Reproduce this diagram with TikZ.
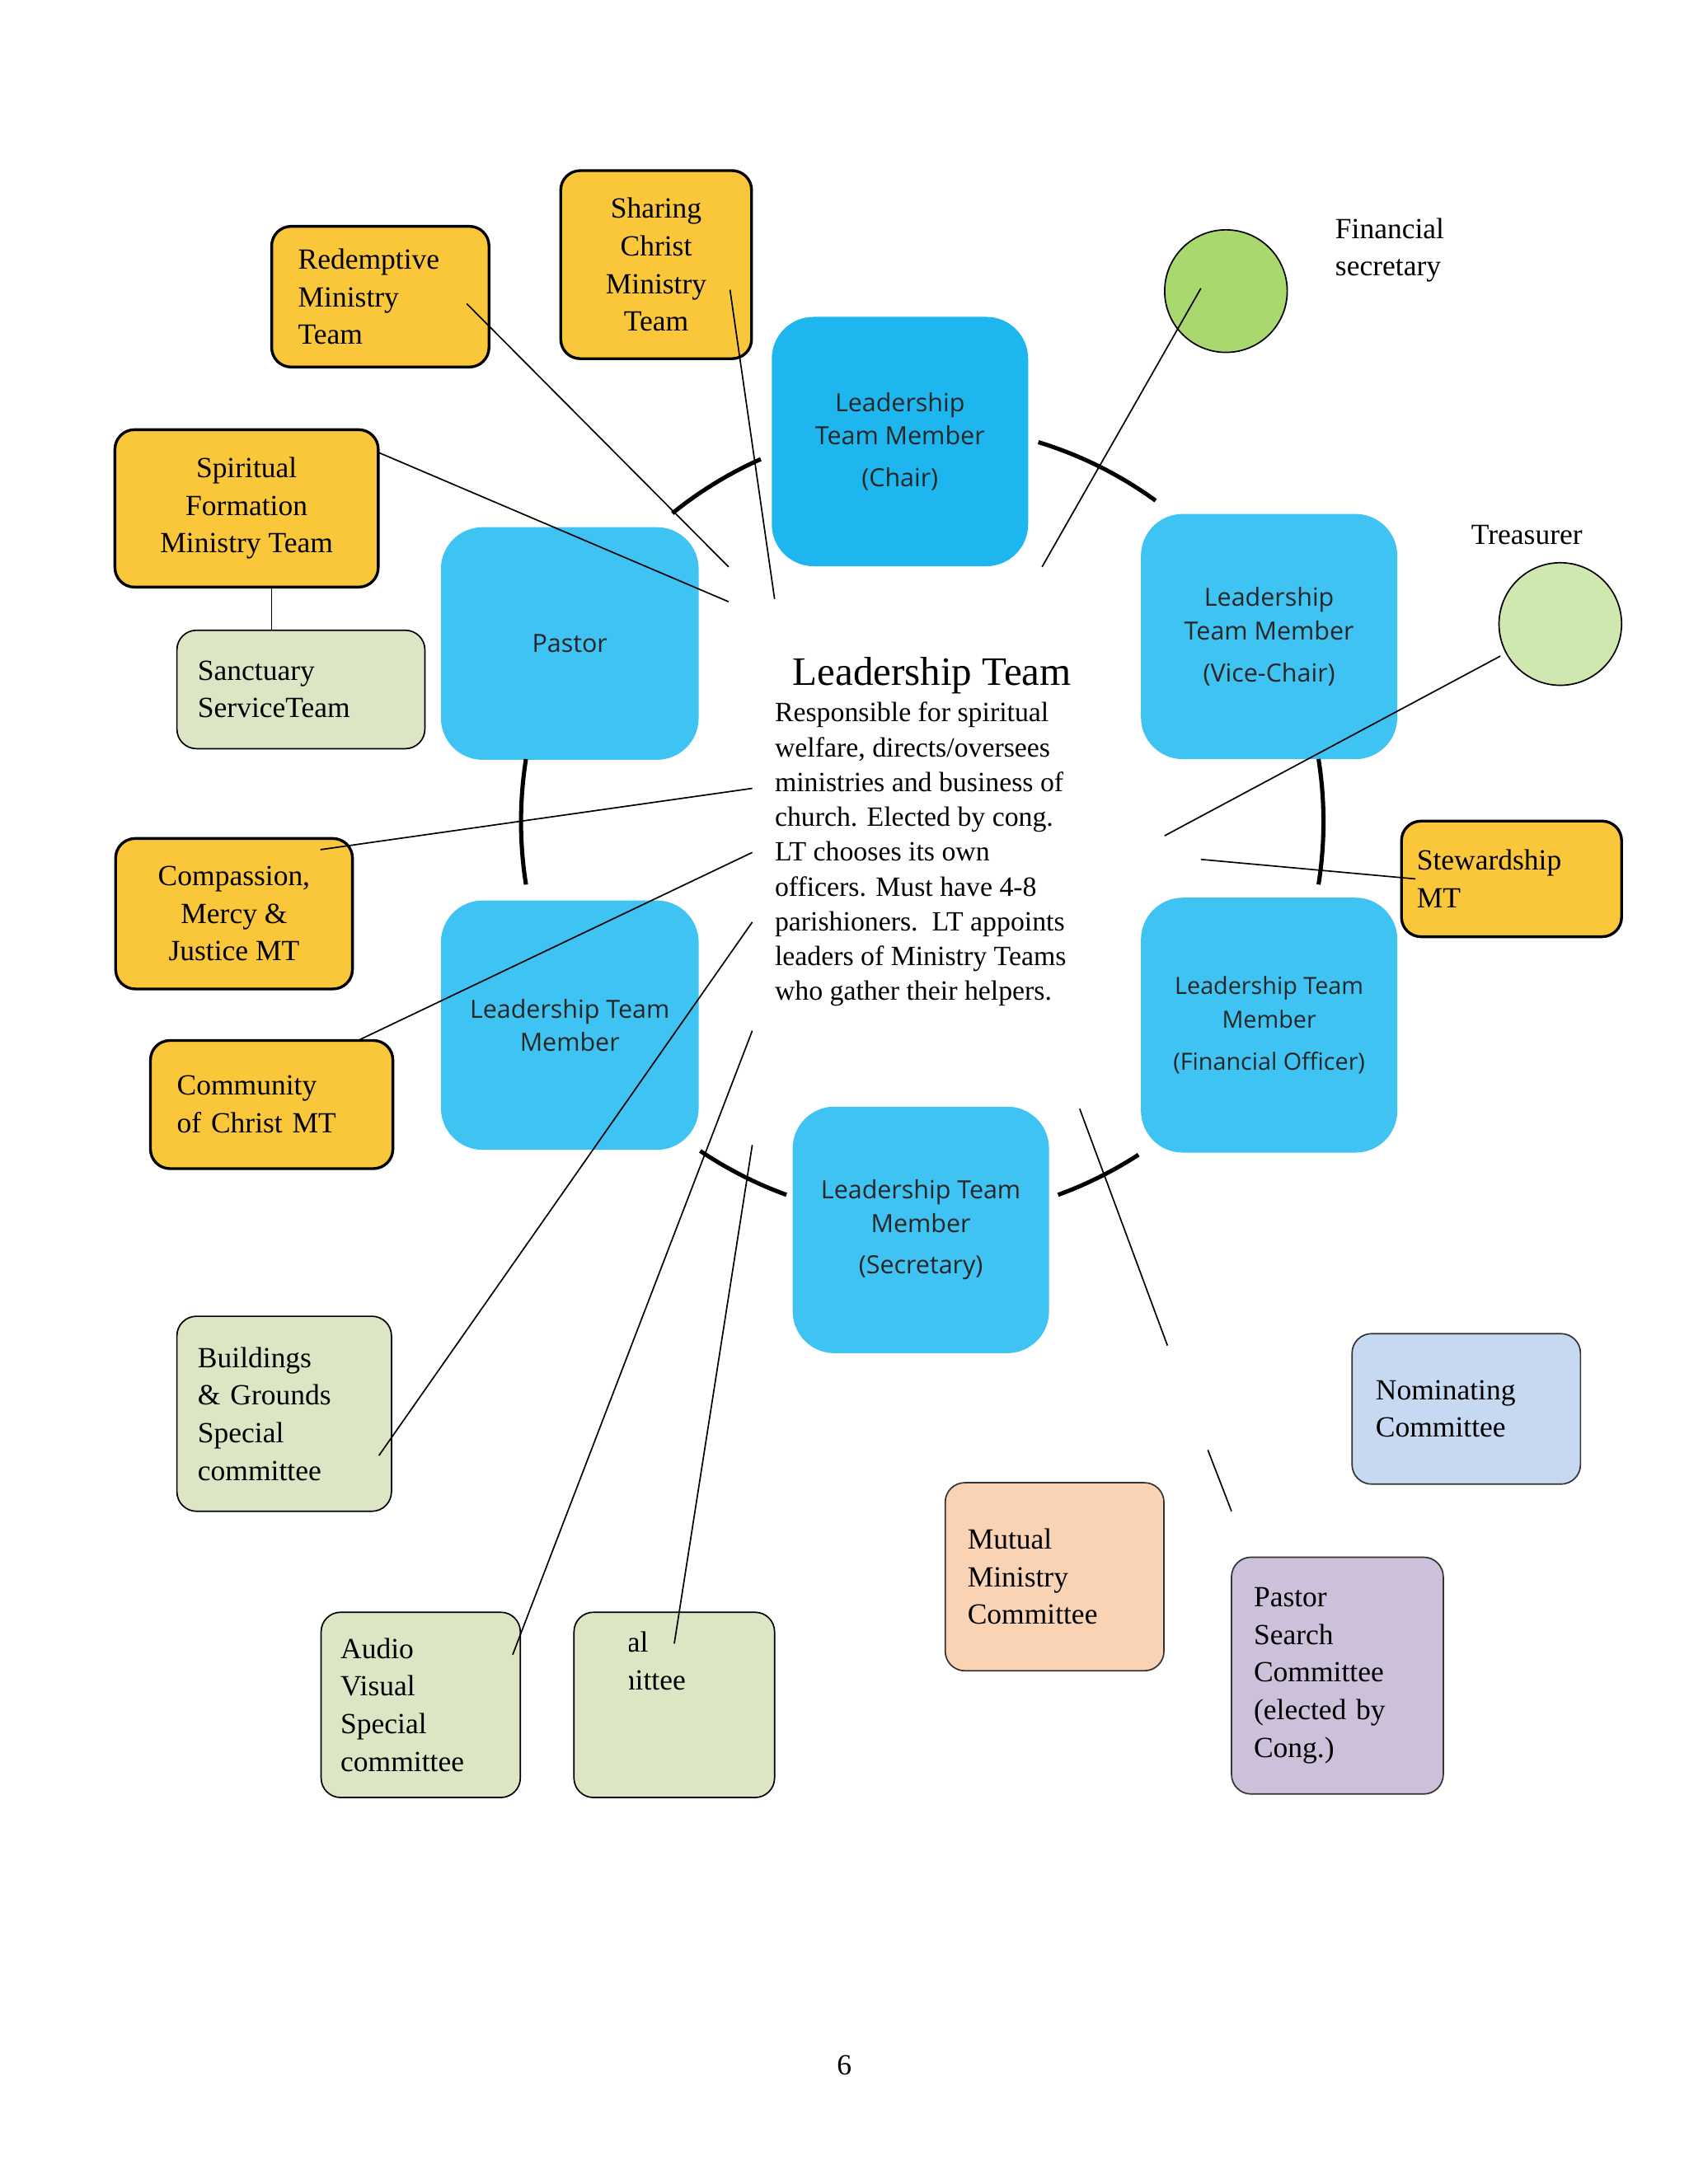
\documentclass[tikz,border=0pt]{standalone}
\usepackage{fontspec}
\setmainfont{Liberation Serif}
\newfontfamily\bluefont{Open Sans}
\definecolor{yel}{HTML}{FBC73A}
\definecolor{blu}{HTML}{3EC3F2}
\definecolor{bluD}{HTML}{1DB6EE}
\definecolor{chk}{HTML}{DCE6C4}
\definecolor{grn}{HTML}{A9D86E}
\definecolor{grnL}{HTML}{CFE8B0}
\definecolor{nom}{HTML}{C6D9F1}
\definecolor{mut}{HTML}{FAD3B4}
\definecolor{pur}{HTML}{CCC0DA}
\begin{document}
\begin{tikzpicture}[x=1pt,y=-1pt,
 serif/.style={font=\fontsize{21}{27}\selectfont},
 ybox/.style={draw=black,line width=2pt,fill=yel,rounded corners=14pt,serif},
 cbox/.style={draw=black,line width=1pt,fill=chk,rounded corners=14pt,serif},
 obox/.style={draw=black!80,line width=1pt,rounded corners=14pt,serif},
 bbox/.style={fill=blu,rounded corners=30pt,font=\bluefont\fontsize{18}{24}\selectfont,align=center,text=black!85},
 ln/.style={black,line width=1pt},
 arcs/.style={black,line width=3pt}]
\useasboundingbox (0,0) rectangle (1212,1568);
\fill[white] (0,0) rectangle (1212,1568);
% blue boxes
\node[bbox,fill=bluD,minimum width=184pt,minimum height=179pt] (chair) at (646,317) {Leadership\\Team Member\\[6pt](Chair)};
\node[bbox,minimum width=185pt,minimum height=167pt] (pastor) at (409,462) {Pastor};
\node[bbox,minimum width=184pt,minimum height=176pt] (vice) at (911,457) {Leadership\\Team Member\\[6pt](Vice-Chair)};
\node[bbox,minimum width=185pt,minimum height=179pt] (ltm) at (409,736) {Leadership Team\\Member};
\node[bbox,minimum width=184pt,minimum height=183pt,font=\bluefont\fontsize{17}{24}\selectfont] (fin) at (911,736) {Leadership Team\\Member\\[6pt](Financial Officer)};
\node[bbox,minimum width=184pt,minimum height=177pt] (sec) at (661,883) {Leadership Team\\Member\\[6pt](Secretary)};
% arcs
\coordinate (c) at (662,590);
\draw[arcs] ([shift={(-129:285)}]c) arc[start angle=-129,end angle=-114,radius=285];
\draw[arcs] ([shift={(-73:285)}]c) arc[start angle=-73,end angle=-54,radius=285];
\draw[arcs] ([shift={(-9:288)}]c) arc[start angle=-9,end angle=9,radius=288];
\draw[arcs] ([shift={(171:288)}]c) arc[start angle=171,end angle=189,radius=288];
\draw[arcs] ([shift={(110:285)}]c) arc[start angle=110,end angle=124,radius=285];
\draw[arcs] ([shift={(57:285)}]c) arc[start angle=57,end angle=70,radius=285];
% center text
\node[font=\fontsize{29}{34}\selectfont] (title) at (669,485) {Leadership Team};
\node[serif,anchor=north west,align=left,inner sep=0pt,font=\fontsize{20}{25}\selectfont] (desc) at (556,504) {Responsible for spiritual\\welfare, directs/oversees\\ministries and business of\\church. Elected by cong.\\LT chooses its own\\officers. Must have 4-8\\parishioners.\ \ LT appoints\\leaders of Ministry Teams\\who gather their helpers.};
% yellow boxes
\node[ybox,minimum width=156pt,minimum height=101pt,text width=118pt,align=left] (red) at (273,213) {Redemptive\\Ministry\\Team};
\node[ybox,minimum width=137pt,minimum height=135pt,align=center] (sha) at (471,190) {Sharing\\Christ\\Ministry\\Team};
\node[ybox,minimum width=189pt,minimum height=113pt,align=center] (spi) at (177,365) {Spiritual\\Formation\\Ministry Team};
\node[ybox,minimum width=170pt,minimum height=108pt,align=center] (com) at (168,656) {Compassion,\\Mercy \&\\Justice MT};
\node[ybox,minimum width=174pt,minimum height=92pt,text width=136pt,align=left] (cmt) at (195,793) {Community\\of Christ MT};
\node[ybox,minimum width=158pt,minimum height=83pt,text width=136pt,align=left] (stw) at (1085,631) {Stewardship\\MT};
% checkered boxes
\node[cbox,minimum width=178pt,minimum height=85pt,text width=148pt,align=left] (san) at (216,495) {Sanctuary\\ServiceTeam};
\node[cbox,minimum width=154pt,minimum height=140pt,text width=124pt,align=left] (bld) at (204,1015) {Buildings\\\& Grounds\\Special\\committee};
\node[cbox,minimum width=143pt,minimum height=133pt,text width=115pt,align=left] (av) at (302,1224) {Audio\\Visual\\Special\\committee};
\node[cbox,minimum width=144pt,minimum height=133pt] (spc) at (484,1224) {};
\begin{scope}
\clip (spc.south west) rectangle ([xshift=-1pt]spc.north east);
\clip (452,1150) rectangle (560,1300);
\node[serif,anchor=north west,align=left] (spct) at (400,1168) {Special\\committee};
\end{scope}
% other committees
\node[obox,fill=nom,minimum width=164pt,minimum height=108pt,text width=130pt,align=left,anchor=north west] (nomc) at (970,957) {Nominating\\Committee};
\node[obox,fill=mut,minimum width=157pt,minimum height=135pt,text width=125pt,align=left] (mutc) at (757,1132) {Mutual\\Ministry\\Committee};
\node[obox,fill=pur,minimum width=152pt,minimum height=170pt,text width=120pt,align=left] (psc) at (960,1203) {Pastor\\Search\\Committee\\(elected by\\Cong.)};
% circles
\node[circle,draw=black,line width=1pt,fill=grn,minimum size=88pt] (fsc) at (880,209) {};
\node[circle,draw=black,line width=1pt,fill=grnL,minimum size=88pt] (trc) at (1120,448) {};
\node[serif,align=left,anchor=north west] (fsl) at (955,153) {Financial\\secretary};
\node[serif] (trl) at (1096,384) {Treasurer};
\node[serif] (pg) at (606,1483) {6};
% connectors
\coordinate (a1) at (335,218); \coordinate (b1) at (523,407);
\coordinate (a2) at (524,208); \coordinate (b2) at (556,430);
\coordinate (a3) at (272,325); \coordinate (b3) at (523,432);
\coordinate (a5) at (862,207); \coordinate (b5) at (748,407);
\coordinate (a6) at (1077,471); \coordinate (b6) at (836,600);
\coordinate (a7) at (1016,631); \coordinate (b7) at (862,617);
\coordinate (a8) at (230,610); \coordinate (b8) at (540,566);
\coordinate (a9) at (257,747); \coordinate (b9) at (540,612);
\coordinate (a10) at (272,1045); \coordinate (b10) at (540,662);
\coordinate (a11) at (368,1188); \coordinate (b11) at (540,740);
\coordinate (a12) at (484,1180); \coordinate (b12) at (540,822);
\coordinate (a13) at (775,796); \coordinate (b13) at (838,966);
\coordinate (a14) at (867,1041); \coordinate (b14) at (884,1085);
\foreach \i in {1,2,3,5,6,7,8,9,10,11,12,13,14}{\draw[ln] (a\i) -- (b\i);}
\draw[ln] (spi.south -| 195,0) -- (san.north -| 195,0);
\end{tikzpicture}
\end{document}
